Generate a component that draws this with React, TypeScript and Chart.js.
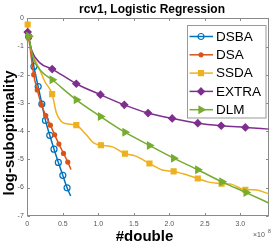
import React, { useEffect, useRef } from 'react';
import { Chart, registerables } from 'chart.js';

Chart.register(...registerables);

const chartTitle = 'rcv1, Logistic Regression';
const xAxisLabel = '#double';
const yAxisLabel = 'log-suboptimality';
const xExponentBase = '×10';
const xExponent = '8';

const seriesNames = ['DSBA', 'DSA', 'SSDA', 'EXTRA', 'DLM'];
const seriesColors = ['#0072BD', '#D95319', '#EDB120', '#7E2F8E', '#77AC30'];

const xTicks = [0, 0.5, 1, 1.5, 2, 2.5, 3];
const yTicks = [-7, -6, -5, -4, -3, -2, -1, 0];
const xRange = [0, 3.4];
const yRange = [-7, 0];

// x in units of 1e8 doubles, y = log-suboptimality
const dsbaMarkers = [
  [0.02, -0.65], [0.093, -1.71], [0.153, -2.42], [0.205, -3.04], [0.256, -3.62],
  [0.316, -4.15], [0.376, -4.64], [0.437, -5.11], [0.5, -5.57], [0.56, -6.01],
];
const dsbaCurve = [...dsbaMarkers, [0.61, -6.3]];

const dsaMarkers = [
  [0.02, -0.65], [0.09, -2.0], [0.14, -2.54], [0.2, -3.07], [0.26, -3.45],
  [0.325, -3.79], [0.385, -4.13], [0.445, -4.46], [0.51, -4.79], [0.57, -5.1],
];
const dsaCurve = [...dsaMarkers, [0.615, -5.36]];

const ssdaMarkers = [
  [0.005, -0.22], [0.35, -2.69], [0.69, -3.79], [1.036, -4.5], [1.375, -4.8],
  [1.72, -5.15], [2.06, -5.43], [2.4, -5.68], [2.735, -5.86], [3.07, -6.08],
];
const ssdaCurve = [
  [0.005, -0.22], [0.02, -0.7], [0.08, -1.3], [0.177, -1.83], [0.246, -2.24],
  [0.35, -2.69], [0.41, -3.36], [0.48, -3.66], [0.55, -3.74], [0.69, -3.79],
  [0.83, -4.13], [0.94, -4.43], [1.036, -4.5], [1.2, -4.56], [1.375, -4.8],
  [1.52, -4.88], [1.72, -5.15], [1.9, -5.38], [2.06, -5.43], [2.22, -5.53],
  [2.4, -5.68], [2.54, -5.8], [2.735, -5.86], [2.87, -5.88], [3.07, -6.08],
  [3.19, -6.08], [3.4, -6.22],
];

const extraMarkers = [
  [0.005, -0.49], [0.35, -1.8], [0.69, -2.32], [1.03, -2.71], [1.365, -3.07],
  [1.7, -3.36], [2.04, -3.55], [2.4, -3.72], [2.73, -3.81], [3.07, -3.87],
];
const extraCurve = [
  [0.005, -0.49], [0.06, -1.12], [0.177, -1.58], ...extraMarkers.slice(1), [3.4, -3.93],
];

const dlmMarkers = [
  [0.02, -0.64], [0.35, -2.18], [0.69, -2.89], [1.03, -3.48], [1.375, -4.04],
  [1.72, -4.51], [2.06, -4.96], [2.4, -5.37], [2.74, -5.8], [3.08, -6.18],
];
const dlmCurve = [
  [0.02, -0.64], [0.084, -1.41], [0.2, -1.89], ...dlmMarkers.slice(1), [3.4, -6.55],
];

const curves = [dsbaCurve, dsaCurve, ssdaCurve, extraCurve, dlmCurve];
const markers = [dsbaMarkers, dsaMarkers, ssdaMarkers, extraMarkers, dlmMarkers];

const markerStyles: any[] = [
  { pointStyle: 'circle', radius: 3, fill: false, rotation: 0 },
  { pointStyle: 'circle', radius: 2, fill: true, rotation: 0 },
  { pointStyle: 'rect', radius: 3.5, fill: true, rotation: 0 },
  { pointStyle: 'rectRot', radius: 3.5, fill: true, rotation: 0 },
  { pointStyle: 'triangle', radius: 4, fill: true, rotation: 90 },
];

const FONT = '"Liberation Sans", Arial, Helvetica, sans-serif';

const toXY = (arr: number[][]) => arr.map(([x, y]) => ({ x, y }));

function drawMarker(ctx: CanvasRenderingContext2D, i: number, x: number, y: number) {
  const m = markerStyles[i];
  const color = seriesColors[i];
  ctx.save();
  ctx.translate(x, y);
  ctx.rotate((m.rotation * Math.PI) / 180);
  ctx.beginPath();
  const r = m.radius;
  if (m.pointStyle === 'circle') {
    ctx.arc(0, 0, r, 0, Math.PI * 2);
  } else if (m.pointStyle === 'rect') {
    const s = r / Math.SQRT2;
    ctx.rect(-s, -s, 2 * s, 2 * s);
  } else if (m.pointStyle === 'rectRot') {
    ctx.moveTo(0, -r);
    ctx.lineTo(r, 0);
    ctx.lineTo(0, r);
    ctx.lineTo(-r, 0);
    ctx.closePath();
  } else if (m.pointStyle === 'triangle') {
    ctx.moveTo(0, -r);
    ctx.lineTo(r * 0.866, r * 0.5);
    ctx.lineTo(-r * 0.866, r * 0.5);
    ctx.closePath();
  }
  ctx.lineWidth = 1.2;
  ctx.strokeStyle = color;
  if (m.fill) {
    ctx.fillStyle = color;
    ctx.fill();
  }
  ctx.stroke();
  ctx.restore();
}

const decorPlugin = {
  id: 'decor',
  beforeDatasetsDraw(chart: any) {
    const { ctx, chartArea } = chart;
    const xs = chart.scales.x;
    const ys = chart.scales.y;
    const L = Math.round(chartArea.left) + 0.5;
    const R = Math.round(chartArea.right) - 0.5;
    const T = Math.round(chartArea.top) + 0.5;
    const B = Math.round(chartArea.bottom) - 0.5;
    ctx.save();
    ctx.strokeStyle = '#8a8a8a';
    ctx.lineWidth = 1;
    ctx.strokeRect(L, T, R - L, B - T);
    ctx.beginPath();
    const tl = 2.5;
    xTicks.forEach((v) => {
      const px = Math.round(xs.getPixelForValue(v)) + 0.5;
      ctx.moveTo(px, B);
      ctx.lineTo(px, B - tl);
      ctx.moveTo(px, T);
      ctx.lineTo(px, T + tl);
    });
    yTicks.forEach((v) => {
      const py = Math.round(ys.getPixelForValue(v)) + 0.5;
      ctx.moveTo(L, py);
      ctx.lineTo(L + tl, py);
      ctx.moveTo(R, py);
      ctx.lineTo(R - tl, py);
    });
    ctx.stroke();
    ctx.restore();
  },
  afterDraw(chart: any) {
    const { ctx } = chart;
    ctx.save();
    // title
    ctx.fillStyle = '#000';
    ctx.font = `bold 12px ${FONT}`;
    ctx.textAlign = 'center';
    ctx.textBaseline = 'alphabetic';
    ctx.fillText(chartTitle, 152, 13);
    // x label
    ctx.font = `bold 15px ${FONT}`;
    ctx.fillText(xAxisLabel, 144.5, 240.5);
    // y label
    ctx.save();
    ctx.translate(13.5, 133);
    ctx.rotate(-Math.PI / 2);
    ctx.fillText(yAxisLabel, 0, 0);
    ctx.restore();
    // exponent
    ctx.fillStyle = '#555';
    ctx.textAlign = 'left';
    ctx.font = `7px ${FONT}`;
    ctx.fillText(xExponentBase, 253, 237);
    ctx.font = `5px ${FONT}`;
    ctx.fillText(xExponent, 268, 233);

    // legend
    const bx = 187.5, by = 25.5, bw = 78.5, bh = 92.5;
    ctx.fillStyle = '#fff';
    ctx.fillRect(bx, by, bw, bh);
    ctx.strokeStyle = '#999';
    ctx.lineWidth = 1;
    ctx.strokeRect(bx, by, bw, bh);
    ctx.font = `13.5px ${FONT}`;
    ctx.textBaseline = 'middle';
    ctx.textAlign = 'left';
    seriesNames.forEach((name, i) => {
      const y = 36.5 + i * 18.3;
      ctx.strokeStyle = seriesColors[i];
      ctx.lineWidth = 1.5;
      ctx.beginPath();
      ctx.moveTo(189.5, y);
      ctx.lineTo(213, y);
      ctx.stroke();
      drawMarker(ctx, i, 201, y);
      ctx.fillStyle = '#000';
      ctx.fillText(name, 216, y + 0.5);
    });
    ctx.restore();
  },
};

export default function App() {
  const ref = useRef<HTMLCanvasElement | null>(null);
  useEffect(() => {
    if (!ref.current) return;
    const datasets: any[] = [];
    seriesNames.forEach((name, i) => {
      datasets.push({
        label: name,
        data: toXY(curves[i]),
        showLine: true,
        borderColor: seriesColors[i],
        backgroundColor: seriesColors[i],
        borderWidth: 1.5,
        pointRadius: 0,
        pointHoverRadius: 0,
        cubicInterpolationMode: 'monotone',
        order: 10 - 2 * i,
      });
      const m = markerStyles[i];
      datasets.push({
        label: name + ' markers',
        data: toXY(markers[i]),
        showLine: false,
        pointStyle: m.pointStyle,
        pointRadius: m.radius,
        pointRotation: m.rotation,
        pointBorderWidth: 1.2,
        pointBorderColor: seriesColors[i],
        pointBackgroundColor: m.fill ? seriesColors[i] : 'rgba(0,0,0,0)',
        clip: false,
        order: 9 - 2 * i,
      });
    });
    const chart = new Chart(ref.current, {
      type: 'scatter',
      data: { datasets },
      options: {
        animation: false,
        responsive: false,
        devicePixelRatio: 1,
        layout: { padding: { left: 0, right: 1.7, top: 18.3, bottom: 0 } },
        plugins: {
          legend: { display: false },
          title: { display: false },
          tooltip: { enabled: false },
        },
        scales: {
          x: {
            type: 'linear',
            min: xRange[0],
            max: xRange[1],
            grid: { display: false, drawTicks: false },
            border: { display: false },
            afterBuildTicks: (s: any) => {
              s.ticks = xTicks.map((v) => ({ value: v }));
            },
            afterFit: (s: any) => {
              s.height = 27.3;
            },
            ticks: {
              autoSkip: false,
              maxRotation: 0,
              padding: 4.5,
              color: '#555',
              font: { family: FONT, size: 7 },
            },
          },
          y: {
            type: 'linear',
            min: yRange[0],
            max: yRange[1],
            grid: { display: false, drawTicks: false },
            border: { display: false },
            afterBuildTicks: (s: any) => {
              s.ticks = yTicks.map((v) => ({ value: v }));
            },
            afterFit: (s: any) => {
              s.width = 27.3;
            },
            ticks: {
              autoSkip: false,
              padding: 3.5,
              color: '#555',
              font: { family: FONT, size: 7 },
            },
          },
        },
      },
      plugins: [decorPlugin],
    });
    return () => chart.destroy();
  }, []);
  return (
    <div style={{ position: 'fixed', left: 0, top: 0, width: 274, height: 243, background: '#fff' }}>
      <canvas ref={ref} width={274} height={243} style={{ display: 'block' }} />
    </div>
  );
}
